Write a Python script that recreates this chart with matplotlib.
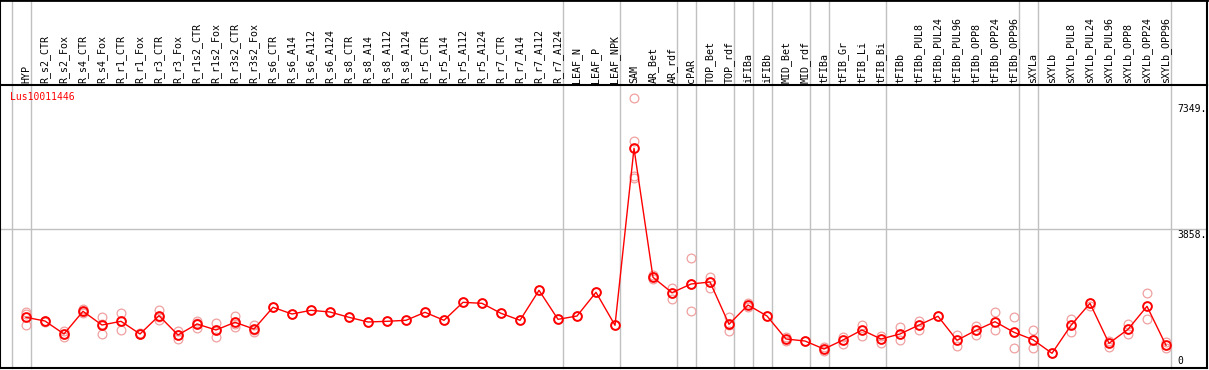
import matplotlib
matplotlib.use("Agg")
import matplotlib.pyplot as plt
from matplotlib.transforms import offset_copy

samples = ["HYP", "R_s2_CTR", "R_s2_Fox", "R_s4_CTR", "R_s4_Fox", "R_r1_CTR", "R_r1_Fox",
           "R_r3_CTR", "R_r3_Fox", "R_r1s2_CTR", "R_r1s2_Fox", "R_r3s2_CTR", "R_r3s2_Fox",
           "R_s6_CTR", "R_s6_A14", "R_s6_A112", "R_s6_A124", "R_s8_CTR", "R_s8_A14",
           "R_s8_A112", "R_s8_A124", "R_r5_CTR", "R_r5_A14", "R_r5_A112", "R_r5_A124",
           "R_r7_CTR", "R_r7_A14", "R_r7_A112", "R_r7_A124", "LEAF_N", "LEAF_P", "LEAF_NPK",
           "SAM", "AR_Bet", "AR_rdf", "cPAR", "TOP_Bet", "TOP_rdf", "iFIBa", "iFIBb",
           "MID_Bet", "MID_rdf", "tFIBa", "tFIB_Gr", "tFIB_Li", "tFIB_Bi", "tFIBb",
           "tFIBb_PUL8", "tFIBb_PUL24", "tFIBb_PUL96", "tFIBb_OPP8", "tFIBb_OPP24",
           "tFIBb_OPP96", "sXYLa", "sXYLb", "sXYLb_PUL8", "sXYLb_PUL24", "sXYLb_PUL96",
           "sXYLb_OPP8", "sXYLb_OPP24", "sXYLb_OPP96"]

means = [1407, 1304, 944, 1573, 1193, 1296, 944, 1451, 916, 1221, 1055, 1268, 1082,
         1684, 1499, 1601, 1554, 1407, 1277, 1296, 1324, 1546, 1324, 1823, 1795,
         1518, 1324, 2156, 1351, 1443, 2101, 1185,
         6097, 2517, 2090, 2331, 2387, 1213, 1748, 1443,
         805, 749, 527, 777, 1055, 805, 944,
         1193, 1435, 769, 1046, 1285, 991,
         785, 408, 1185, 1795, 685, 1074, 1712, 630]

replicates = [
    [1562, 1512, 1193], [1290, 1304, 1318], [1035, 944, 869], [1637, 1554, 1530],
    [1407, 944, 1228], [1526, 1046, 1316], [930, 944, 958], [1610, 1332, 1411],
    [1027, 796, 925], [1313, 1102, 1248], [1240, 869, 1056], [1443, 1146, 1215],
    [1193, 991, 1062],
    [1684], [1499], [1601], [1554], [1407], [1277], [1296], [1324], [1546], [1324],
    [1823], [1795], [1518], [1324], [2156], [1351], [1443], [2101], [1185],
    [7484, 6299, 5342, 5286], [2572, 2517, 2470], [2212, 2073, 1906], [3044, 2331, 1582],
    [2534, 2387, 2212], [1424, 1035, 1180], [1804, 1693], [1443],
    [860, 749], [749], [583, 472], [860, 666], [1193, 888], [888, 694], [1146, 777],
    [1313, 1055], [1435], [916, 619], [1174, 916], [1546, 1063], [1407, 547],
    [1063, 547], [408], [1351, 1007], [1729, 1795], [749, 574], [1229, 935],
    [2073, 1351], [730, 547],
]

# vertical separators sit just after these sample indices
group_ends = [-1, 0, 28, 31, 34, 35, 37, 38, 39, 41, 42, 45, 52, 53, 60]
axis_marks = [7349, 3858, 0]
gene = "Lus10011446"

W, H = 1209, 370
fig = plt.figure(figsize=(W / 100, H / 100), dpi=100)
top_px, bot_px, right_px = 85, 368, 1207
ax = fig.add_axes([0, (H - bot_px) / H, right_px / W, (bot_px - top_px) / H])

px_per_unit = 0.03603
ax.set_ylim(0, (bot_px - top_px) / px_per_unit)
ax.set_xlim(-26 / 19, (right_px - 26) / 19)
ax.set_xticks([])
ax.set_yticks([])
for s in ax.spines.values():
    s.set_color("black")
    s.set_linewidth(1.5)
ax.spines["top"].set_visible(False)

head = top_px / (bot_px - top_px)  # header height in axes fraction
xt = ax.get_xaxis_transform()
grey = "#c0c0c0"

for g in group_ends:
    ax.plot([g + 0.25, g + 0.25], [0, 1 + head], transform=xt, color=grey, lw=1,
            clip_on=False, zorder=1)
ax.axhline(3858, color=grey, lw=1, zorder=1)

# header lines and border
x0, x1 = ax.get_xlim()
ax.plot([x0, x1], [1, 1], transform=xt, color="black", lw=1.5, clip_on=False)
ax.plot([x0, x1], [1 + head, 1 + head], transform=xt, color="black", lw=2, clip_on=False)
for xe in (x0, x1):
    ax.plot([xe, xe], [1, 1 + head], transform=xt, color="black", lw=1.5, clip_on=False)

lab_tr = offset_copy(xt, fig=fig, x=0, y=2, units="dots")
for i, name in enumerate(samples):
    ax.text(i, 1, name, transform=lab_tr, rotation=90, ha="center", va="bottom",
            fontsize=7.2, family="DejaVu Sans Mono", clip_on=False)

xs = range(len(samples))
for i, reps in enumerate(replicates):
    ax.plot([i] * len(reps), reps, "o", ms=6.3, mfc="none", mec="#f0a0a0", mew=0.9,
            linestyle="None", zorder=2)
ax.plot(xs, means, "-", color="red", lw=1, zorder=3)
ax.plot(xs, means, "o", ms=6.3, mfc="none", mec="red", mew=1.4, linestyle="None",
        zorder=4)

ax.text(10 / right_px, (bot_px - 97) / (bot_px - top_px), gene, transform=ax.transAxes,
        color="red", fontsize=7, family="DejaVu Sans Mono", va="center", ha="left")

lab_x = (1177 - 26) / 19
for v in axis_marks:
    if v == 0:
        ax.text(lab_x, v, "0", fontsize=7, family="DejaVu Sans Mono", va="bottom",
                ha="left", transform=offset_copy(ax.transData, fig=fig, y=2, units="dots"))
    else:
        ax.text(lab_x, v, "%d." % v, fontsize=7, family="DejaVu Sans Mono", va="top",
                ha="left", transform=offset_copy(ax.transData, fig=fig, y=-1, units="dots"))

fig.savefig("out.png", dpi=100)
